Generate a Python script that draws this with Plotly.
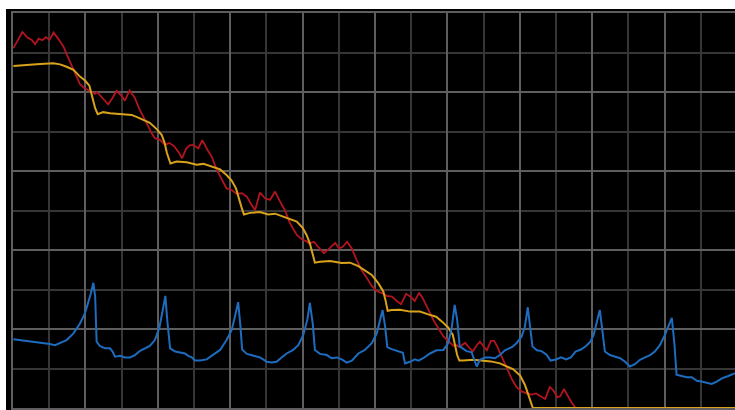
import plotly.graph_objects as go

# Series values (x in sample units, y in percent of full scale)
red_x = [0.1, 2.6, 4.0, 5.2, 6.1, 7.1, 8.1, 9.1, 10.1, 11.2, 12.7, 14.0, 14.9, 15.7, 16.7, 17.5,
         18.5, 19.6, 21.3, 22.7, 23.2, 24.3, 25.1, 26.3, 27.5, 28.6, 30.0, 30.9, 32.2, 33.6, 34.8,
         36.0, 37.3, 38.4, 39.2, 40.6, 42.0, 43.2, 44.5, 45.8, 46.7, 47.8, 48.8, 49.8, 51.2, 52.3,
         53.5, 54.9, 56.3, 57.7, 59.0, 60.4, 61.8, 63.2, 64.6, 65.9, 66.9, 68.2, 69.6, 71.0, 72.4,
         73.8, 75.1, 76.5, 78.4, 79.8, 81.1, 81.8, 83.1, 84.3, 85.9, 87.4, 89.0, 90.1, 91.1, 92.3,
         93.6, 94.9, 96.3, 97.7, 99.1, 100.5, 101.9, 103.2, 104.7, 106.0, 107.2, 108.6, 109.9, 111.0,
         112.2, 113.3, 114.7, 116.1, 117.5, 118.9, 120.2, 121.6, 122.6, 123.3, 124.0, 124.9, 125.8,
         127.0, 128.1, 129.0, 129.9, 130.9, 132.0, 132.9, 133.7, 134.5, 135.4, 136.5, 137.8, 139.1,
         140.5, 141.9, 143.3, 144.5, 145.6, 147.0, 148.3, 149.3, 150.4, 151.2, 152.2, 153.3, 154.3,
         155.2, 156.6, 158.0]
red_y = [91.1, 95.2, 93.8, 93.2, 92.1, 93.5, 93.1, 93.9, 93.2, 95.1, 93.2, 91.4, 89.4, 87.7, 85.6, 83.8,
         82.0, 81.1, 80.3, 79.5, 80.0, 78.8, 78.0, 76.9, 78.5, 80.3, 79.0, 77.8, 80.4, 78.6, 75.9,
         73.7, 71.1, 69.4, 68.3, 67.9, 66.6, 67.1, 66.3, 64.7, 63.2, 65.6, 66.5, 66.6, 65.7, 67.8,
         65.7, 63.6, 60.3, 57.7, 55.6, 55.2, 54.2, 54.4, 53.5, 51.4, 50.1, 54.5, 53.1, 52.7, 54.8,
         52.2, 50.1, 46.8, 43.8, 42.7, 42.2, 41.6, 42.1, 40.8, 39.2, 40.4, 41.8, 40.4, 40.8, 42.1,
         40.4, 37.5, 34.9, 33.0, 30.9, 29.6, 29.1, 28.4, 28.2, 27.1, 26.3, 28.9, 28.1, 27.1,
         29.2, 27.6, 24.8, 22.3, 20.2, 18.1, 17.0, 15.8, 15.9, 15.4, 15.9, 16.5, 15.5,
         14.3, 15.9, 16.8, 15.7, 14.6, 17.0, 17.0, 15.7, 14.2, 12.2, 9.9, 7.3, 5.3,
         4.2, 3.7, 3.4, 3.7, 3.0, 2.3, 5.3, 4.4, 2.7, 3.0, 4.8, 2.9, 1.4,
         0.3, -1.0, -2.5]

gold_x = [0.1, 2.8, 6.5, 11.1, 13.0, 14.8, 16.7, 18.5, 19.9, 21.1, 21.7, 22.7, 23.4, 24.9, 26.8,
          29.6, 31.4, 32.8, 34.6, 36.0, 37.8, 39.7, 41.1, 41.9, 42.5, 43.5, 45.2, 48.0, 50.7, 52.6,
          54.9, 57.2, 59.0, 60.4, 61.6, 62.2, 63.2, 63.8, 65.5, 68.2, 70.5, 72.4, 74.2, 76.5, 78.4,
          80.0, 81.1, 82.0, 82.8, 83.4, 84.8, 87.6, 90.8, 93.1, 95.4, 97.2, 99.1, 100.9, 102.3,
          102.9, 103.5, 104.6, 106.9, 109.7, 112.4, 114.7, 116.9, 118.6, 120.2, 121.5, 122.1, 122.7,
          123.3, 124.4, 127.2, 129.9, 132.0, 134.5, 136.4, 138.2, 140.1, 141.4, 142.3, 143.0, 143.6,
          160.0, 180.0, 199.9]
gold_y = [86.6, 86.7, 87.0, 87.3, 87.0, 86.4, 85.6, 83.9, 82.9, 81.6, 79.2, 75.9, 74.4, 74.9, 74.6,
          74.4, 74.3, 74.2, 73.5, 73.0, 72.2, 70.6, 69.1, 67.1, 64.6, 61.9, 62.4, 62.2, 61.6, 61.8,
          61.1, 60.4, 59.0, 57.6, 55.6, 53.5, 50.6, 49.0, 49.4, 49.6, 49.0, 49.2, 48.6, 48.0, 47.2,
          45.6, 43.8, 41.7, 39.2, 36.8, 37.0, 37.2, 36.7, 36.8, 35.9, 34.9, 33.7, 31.6, 29.5,
          27.3, 24.6, 24.8, 24.9, 24.4, 24.4, 23.7, 23.1, 21.8, 20.4, 18.5, 15.9, 13.4,
          12.0, 12.0, 12.2, 12.0, 11.8, 11.3, 10.6, 9.8, 8.2, 5.9, 3.5, 1.4, 0.0,
          0.0, 0.0, 0.0]

blue_x = [0.1, 3.8, 7.5, 10.2, 11.6, 13.0, 14.8, 16.7, 18.5, 19.9, 20.8, 21.5, 22.2, 22.7, 23.1,
          24.0, 25.4, 26.8, 27.5, 28.2, 29.6, 30.9, 32.3, 33.7, 35.1, 36.5, 37.8, 39.2, 40.4, 41.2,
          42.1, 42.6, 43.4, 44.8, 46.1, 47.5, 48.4, 49.4, 50.3, 51.7, 53.5, 55.3, 57.2, 59.0, 60.4,
          61.3, 62.2, 62.8, 63.3, 64.6, 66.4, 68.2, 69.1, 70.1, 71.5, 72.8, 74.2, 75.6, 77.4, 78.8,
          80.2, 81.3, 82.0, 82.8, 83.4, 84.8, 86.7, 88.0, 89.4, 90.8, 92.2, 93.6, 95.4, 97.2, 99.1,
          100.5, 101.4, 102.1, 102.8, 103.4, 104.6, 106.4, 107.7, 108.3, 109.7, 111.0, 112.0, 113.3,
          115.2, 117.0, 118.9, 120.2, 121.2, 122.0, 122.7, 123.4, 125.3, 126.7, 128.1, 129.0, 130.4,
          131.8, 133.1, 134.5, 135.9, 137.8, 139.1, 140.5, 141.4, 142.2, 142.8, 143.5, 144.7, 146.0,
          147.4, 148.5, 150.0, 151.4, 152.8, 154.1, 155.4, 156.9, 158.3, 159.5, 160.4, 161.2, 162.1,
          162.8, 163.5, 164.9, 166.3, 167.7, 169.1, 170.4, 171.8, 173.2, 174.6, 176.0, 177.3, 178.7,
          180.1, 181.3, 182.0, 182.7, 183.3, 184.7, 186.1, 187.5, 188.9, 190.2, 191.6, 193.0, 194.4,
          195.8, 197.6, 199.4, 200.0]
blue_y = [17.4, 17.0, 16.5, 16.2, 15.9, 16.5, 17.2, 18.9, 21.4, 24.0, 26.5, 29.0, 31.7, 28.2, 16.8,
          15.7, 15.1, 15.1, 14.3, 13.0, 13.2, 12.8, 12.8, 13.4, 14.5, 15.1, 15.7, 17.2, 20.2, 24.0,
          28.4, 22.3, 15.1, 14.3, 14.0, 13.8, 13.2, 12.8, 12.0, 12.0, 12.3, 13.4, 14.7, 17.2, 19.7,
          23.1, 26.8, 21.0, 14.8, 13.7, 13.2, 12.8, 12.3, 11.7, 11.5, 11.7, 12.8, 13.8, 14.7, 15.9,
          18.5, 22.3, 26.6, 21.4, 14.7, 13.7, 13.4, 12.6, 12.8, 12.3, 11.5, 12.0, 13.8, 14.7, 16.4,
          18.9, 22.3, 24.8, 20.6, 15.4, 14.9, 14.3, 14.0, 11.3, 11.7, 12.3, 12.0, 12.6,
          13.8, 14.6, 14.7, 16.4, 20.3, 26.1, 22.3, 15.6, 14.4, 14.1, 10.5, 12.2, 12.8,
          12.8, 12.6, 13.4, 14.6, 15.4, 16.4, 18.1, 20.5, 25.5, 21.0, 15.6, 14.6, 14.4,
          13.5, 12.0, 12.3, 12.8, 12.3, 12.8, 14.3, 14.8, 15.7, 16.8, 18.5, 21.8, 24.8,
          19.7, 14.3, 13.4, 13.0, 12.6, 11.7, 10.5, 11.1, 12.2, 12.8, 13.4, 14.3, 15.9,
          18.5, 21.4, 22.8, 16.4, 8.4, 8.1, 7.8, 7.8, 6.9, 6.7, 6.4, 6.1, 6.7,
          7.5, 8.1, 8.9, 9.0]

RED = "#b3141f"
GOLD = "#d9a21b"
BLUE = "#1d6cbf"
GRID_MAJOR = "#5e5e5e"
GRID_MINOR = "#363636"

fig = go.Figure()
fig.add_trace(go.Scatter(x=red_x, y=red_y, mode="lines",
                         line=dict(color=RED, width=1.8), hoverinfo="skip"))
fig.add_trace(go.Scatter(x=gold_x, y=gold_y, mode="lines",
                         line=dict(color=GOLD, width=2), hoverinfo="skip"))
fig.add_trace(go.Scatter(x=blue_x, y=blue_y, mode="lines",
                         line=dict(color=BLUE, width=2), hoverinfo="skip"))

W, H = 735, 410
ML, MR, MT, MB = 13, 0, 13, 2
pw, ph = W - ML - MR, H - MT - MB

axis_common = dict(
    showticklabels=False, ticks="", zeroline=False,
    showline=True, linecolor=GRID_MAJOR, linewidth=2,
    showgrid=True, gridcolor=GRID_MAJOR, gridwidth=2,
    minor=dict(showgrid=True, gridcolor=GRID_MINOR, gridwidth=2, dtick=10),
    fixedrange=True,
)

fig.update_layout(
    width=W, height=H,
    margin=dict(l=ML, r=MR, t=MT, b=MB, pad=0),
    paper_bgcolor="white",
    plot_bgcolor="black",
    showlegend=False,
    # bottom and top frame lines from the x axis, left frame line from the y axis
    xaxis=dict(range=[0, 199.45], dtick=20, tick0=0, mirror=True, **axis_common),
    yaxis=dict(range=[0, 100], dtick=20, tick0=0, mirror=False, **axis_common),
    shapes=[dict(type="rect", xref="paper", yref="paper", layer="below",
                 x0=-7 / pw, x1=1.01, y0=-3 / ph, y1=1 + 4 / ph,
                 fillcolor="black", line=dict(width=0))],
)

fig.write_html("out.html", config={"displayModeBar": False})
